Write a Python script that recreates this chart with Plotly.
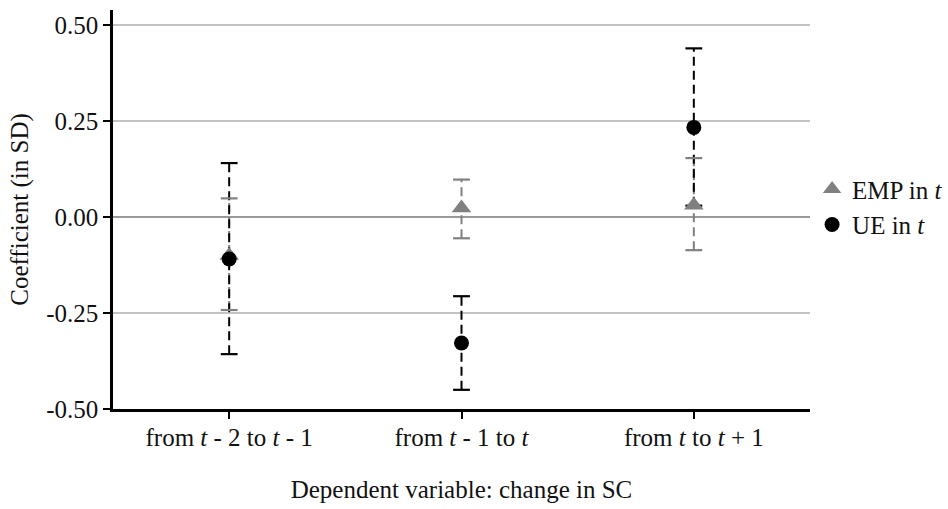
import plotly.graph_objects as go

categories = ["from <i>t</i> - 2 to <i>t</i> - 1", "from <i>t</i> - 1 to <i>t</i>", "from <i>t</i> to <i>t</i> + 1"]
emp_coef = [-0.100, 0.024, 0.031]
emp_lo = [-0.242, -0.055, -0.086]
emp_hi = [0.049, 0.098, 0.154]
ue_coef = [-0.109, -0.328, 0.234]
ue_lo = [-0.357, -0.450, 0.030]
ue_hi = [0.141, -0.206, 0.440]
y_ticks = [-0.5, -0.25, 0.0, 0.25, 0.5]
y_ticktext = ["-0.50", "-0.25", "0.00", "0.25", "0.50"]

GREY = "#808080"
BLACK = "#000000"
FONT = "Liberation Serif"
FS = 25


def seg(cats, lo, hi):
    xs, ys = [], []
    for c, a, b in zip(cats, lo, hi):
        xs += [c, c, None]
        ys += [a, b, None]
    return xs, ys


fig = go.Figure()

for lo, hi, col in [(emp_lo, emp_hi, GREY), (ue_lo, ue_hi, BLACK)]:
    xs, ys = seg(categories, lo, hi)
    fig.add_trace(go.Scatter(x=xs, y=ys, mode="lines", showlegend=False,
                             line=dict(color=col, width=2, dash="9px,5px"),
                             hoverinfo="skip"))
for lo, hi, col in [(emp_lo, emp_hi, GREY), (ue_lo, ue_hi, BLACK)]:
    fig.add_trace(go.Scatter(x=categories + categories, y=lo + hi, mode="markers",
                             showlegend=False, hoverinfo="skip",
                             marker=dict(symbol="line-ew", size=12,
                                         line=dict(color=col, width=2.2))))

fig.add_trace(go.Scatter(x=categories, y=emp_coef, mode="markers", name="EMP in <i>t</i>",
                         marker=dict(symbol="triangle-up", size=17, color=GREY)))
fig.add_trace(go.Scatter(x=categories, y=ue_coef, mode="markers", name="UE in <i>t</i>",
                         marker=dict(symbol="circle", size=15, color=BLACK)))

fig.update_layout(
    width=948, height=509,
    margin=dict(l=113, r=138, t=10, b=100, autoexpand=False),
    paper_bgcolor="white", plot_bgcolor="white",
    font=dict(family=FONT, size=FS, color="#111111"),
    legend=dict(x=1.003, y=0.507, xanchor="left", yanchor="middle",
                font=dict(family=FONT, size=FS, color="#111111"),
                bgcolor="rgba(0,0,0,0)", itemwidth=30),
    showlegend=True,
)
fig.update_xaxes(
    type="category", range=[-0.5, 2.5],
    showline=True, linecolor="black", linewidth=2.5,
    ticks="outside", ticklen=7, tickwidth=2, tickcolor="black",
    showgrid=False, zeroline=False,
    title=dict(text="Dependent variable: change in SC", standoff=31,
               font=dict(family=FONT, size=FS)),
    tickfont=dict(family=FONT, size=FS),
    ticklabelstandoff=-3,
)
fig.update_yaxes(
    range=[-0.5, 0.54],
    tickvals=y_ticks, ticktext=y_ticktext,
    showline=True, linecolor="black", linewidth=2.5,
    ticks="outside", ticklen=7, tickwidth=2, tickcolor="black",
    showgrid=True, gridcolor="#c4c4c4", gridwidth=1.5,
    zeroline=True, zerolinecolor="#999999", zerolinewidth=1.5,
    title=dict(text="Coefficient (in SD)", standoff=11,
               font=dict(family=FONT, size=FS)),
    tickfont=dict(family=FONT, size=FS),
)

fig.write_html("out.html", config={"displayModeBar": False},
               post_script="document.body.style.margin='0';")
